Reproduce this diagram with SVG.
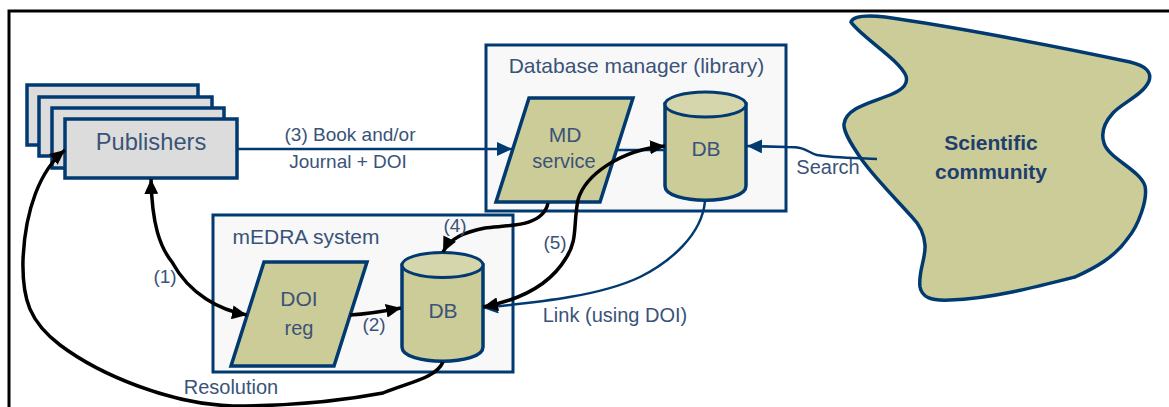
<svg xmlns="http://www.w3.org/2000/svg" width="1169" height="407" viewBox="0 0 1169 407">
<defs>
<marker id="ah" markerUnits="userSpaceOnUse" markerWidth="16" markerHeight="14" refX="15" refY="7" orient="auto-start-reverse"><path d="M0 0L15 7L0 14z" fill="#000"/></marker>
<marker id="ab" markerUnits="userSpaceOnUse" markerWidth="16" markerHeight="14" refX="15" refY="7" orient="auto"><path d="M0 0L15 7L0 14z" fill="#003a70"/></marker>
</defs>
<style>
text{font-family:"Liberation Sans",Arial,sans-serif;fill:#3a5378;font-size:19.500px;text-anchor:middle}
.box{fill:#f8f8f9;stroke:#003a70;stroke-width:3}
.pub{fill:#dcdcdc;stroke:#003a70;stroke-width:3.500}
.ol{fill:#cccc99;stroke:#003a70;stroke-width:3.500}
.top{fill:#d6d6ac;stroke:#003a70;stroke-width:3}
.b{fill:none;stroke:#000;stroke-width:3.500}
.n{fill:none;stroke:#003a70;stroke-width:2.500}
.big{font-size:21px}
</style>
<rect width="1169" height="407" fill="#fff"/>
<path d="M9 407V11H1169" fill="none" stroke="#000" stroke-width="3"/>
<g id="publishers">
<rect class="pub" x="27" y="85" width="171" height="60"/>
<rect class="pub" x="39" y="97" width="173" height="59"/>
<rect class="pub" x="52" y="108" width="172" height="60"/>
<rect class="pub" x="65" y="119" width="172" height="59"/>
<text x="151" y="150" style="font-size:23.700px">Publishers</text>
</g>
<g id="medra">
<rect class="box" x="213" y="215" width="300" height="157"/>
<text x="306" y="244" class="big">mEDRA system</text>
</g>
<g id="doireg">
<path class="ol" d="M264 262H367L334 366H231z"/>
<text x="299" y="306" class="big">DOI</text>
<text x="299" y="335" style="font-size:20px">reg</text>
</g>
<g id="library">
<rect class="box" x="486" y="45" width="300" height="166"/>
<text x="636.500" y="73" class="big">Database manager (library)</text>
</g>
<g id="mdservice">
<path class="ol" d="M529 98H633L600 202H496z"/>
<text x="565" y="142" class="big">MD</text>
<text x="564" y="168" style="font-size:20px">service</text>
</g>
<g id="db1">
<path class="ol" d="M665 104V186C665 205 746 205 746 186V104z"/>
<ellipse class="top" cx="705.500" cy="104.500" rx="40.500" ry="12.500"/>
<text x="706" y="156" class="big">DB</text>
</g>
<g id="db2">
<path class="ol" d="M402 265V347C402 366 483 366 483 347V265z"/>
<ellipse class="top" cx="442.500" cy="265" rx="40.500" ry="12.500"/>
<text x="443" y="318" class="big">DB</text>
</g>
<g id="community">
<path class="ol" d="M851 22C853 16 866 15 885 17C950 26 1060 47 1130 62C1146 66 1152 72 1149 81C1143 95 1122 103 1113 113C1104 123 1101 134 1104 143C1108 158 1140 170 1145 186C1148 200 1138 226 1128 238C1115 257 1095 268 1075 277C1040 286 990 299 950 300C930 301 922 297 920 287C918 272 926 258 925 245C924 233 920 225 912 217C895 198 875 178 862 160C853 147 843 132 844 124C846 108 870 103 890 95C905 89 908 83 906 76C900 60 860 36 851 22z"/>
<text x="991" y="150" style="font-size:21px;font-weight:bold;fill:#1e3f6e">Scientific</text>
<text x="991" y="179" style="font-size:21px;font-weight:bold;fill:#1e3f6e">community</text>
</g>
<g id="connectors">
<path class="n" d="M238 149H512" marker-end="url(#ab)"/>
<path class="n" d="M617 150H665"/>
<path class="n" d="M877 159C860 158 835 158 817 155C806 152 808 147 787 147L747 146" marker-end="url(#ab)"/>
<path class="n" d="M705 201C702 235 670 262 640 277C600 296 540 302 483 308" marker-end="url(#ab)"/>
<path class="b" d="M151 179C152 225 160 247 172 262C190 295 220 310 247 315" marker-start="url(#ah)" marker-end="url(#ah)"/>
<path class="b" d="M350 315C368 314 380 312 401 308" marker-end="url(#ah)"/>
<path class="b" d="M548 203C543 228 505 225 485 228C465 232 450 238 443 252" marker-end="url(#ah)"/>
<path class="b" d="M665 146C620 150 585 175 578 200C573 225 578 240 566 258C550 285 520 300 483 307" marker-start="url(#ah)" marker-end="url(#ah)"/>
<path class="b" d="M443 362C436 378 410 382 383 393C330 403 280 406 233 406C170 404 100 375 60 345C30 322 22 300 23 260C25 210 40 170 65 150" marker-end="url(#ah)"/>
</g>
<g id="labels">
<text x="350" y="141" style="font-size:19px">(3) Book and/or</text>
<text x="348" y="168" style="font-size:19px">Journal + DOI</text>
<text x="165" y="283" style="font-size:19px">(1)</text>
<text x="374" y="331" style="font-size:19px">(2)</text>
<text x="455" y="232" style="font-size:19px">(4)</text>
<text x="555" y="249" style="font-size:19px">(5)</text>
<text x="828" y="174" style="font-size:20px">Search</text>
<text x="231" y="394" style="font-size:20px">Resolution</text>
<text x="615" y="322" style="font-size:20px">Link (using DOI)</text>
</g>
</svg>
